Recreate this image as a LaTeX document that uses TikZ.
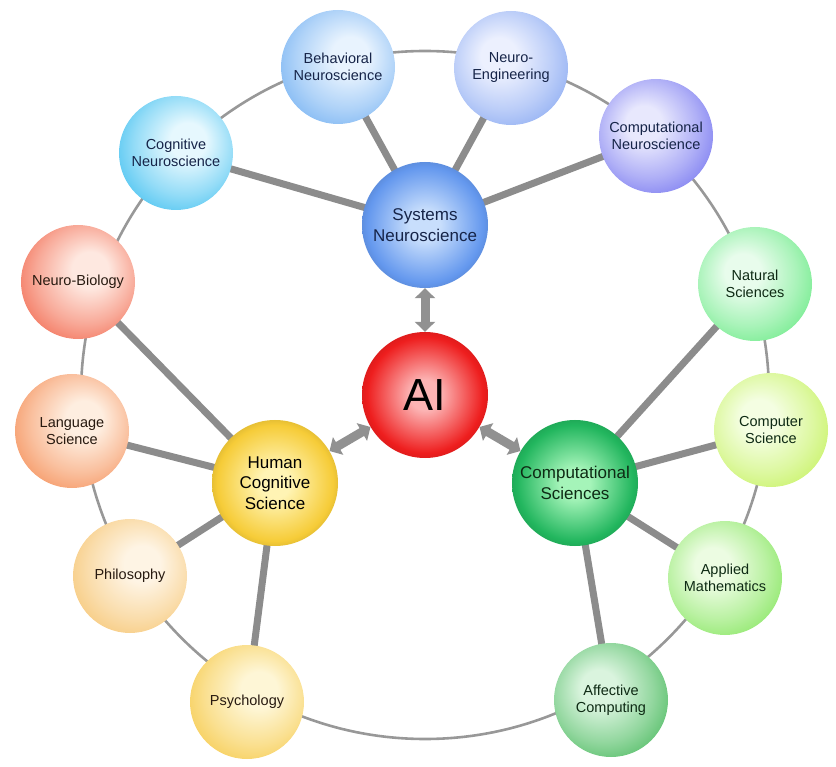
\documentclass[tikz,border=0pt]{standalone}
\usepackage{fontspec}
\setmainfont{Liberation Sans}
\usetikzlibrary{arrows.meta}
\pgfdeclarelayer{bg}
\pgfsetlayers{bg,main}
\colorlet{sphin}{white}
\colorlet{sphout}{gray}
\pgfdeclareradialshading[sphin,sphout]{sphoff}{\pgfpoint{0bp}{9bp}}{color(0bp)=(sphin); color(8bp)=(sphin); color(22bp)=(sphin!50!sphout); color(34bp)=(sphout); color(50bp)=(sphout)}
\pgfdeclareradialshading[sphin,sphout]{sphmid}{\pgfpoint{0bp}{0bp}}{color(0bp)=(sphin); color(6bp)=(sphin); color(23bp)=(sphout); color(25bp)=(sphout!94!black); color(50bp)=(sphout!94!black)}
\definecolor{linkgray}{RGB}{140,140,140}
\definecolor{ringgray}{RGB}{152,152,152}
\definecolor{arrowgray}{RGB}{145,145,145}
\definecolor{txblue}{RGB}{22,36,72}
\definecolor{txwarm}{RGB}{40,26,16}
\definecolor{txgreen}{RGB}{14,42,20}
\tikzset{
  ball/.style n args={4}{circle, minimum size=114pt, inner sep=0pt, align=center,
    /utils/exec={\colorlet{sphin}{#1}\colorlet{sphout}{#2}}, shade, shading=sphoff,
    shading angle=#3, text=#4, font=\fontsize{14.5}{17}\selectfont},
  hub/.style n args={3}{circle, minimum size=126pt, inner sep=0pt, align=center,
    /utils/exec={\colorlet{sphin}{#1}\colorlet{sphout}{#2}}, shade, shading=sphmid,
    text=#3, font=\fontsize{17}{20.5}\selectfont},
  link/.style={draw=linkgray, line width=7pt},
  ring/.style={draw=ringgray, line width=2.6pt},
  dbl/.style={draw=arrowgray, line width=9pt,
    {Triangle[width=20pt,length=10pt]}-{Triangle[width=20pt,length=10pt]}}
}
\begin{document}
\begin{tikzpicture}[x=1pt,y=-1pt]
\path[use as bounding box] (0,0) rectangle (836,767);
% hubs
\node[hub={rgb,255:red,200;green,222;blue,252}{rgb,255:red,100;green,152;blue,238}{txblue}] (sys) at (425,225) {Systems\\Neuroscience};
\node[hub={rgb,255:red,252;green,180;blue,180}{rgb,255:red,238;green,30;blue,30}{black}, font=\fontsize{45}{50}\selectfont] (ai) at (425,395) {AI};
\node[hub={rgb,255:red,255;green,244;blue,180}{rgb,255:red,246;green,204;blue,56}{black}] (hcs) at (275,483) {Human\\Cognitive\\Science};
\node[hub={rgb,255:red,165;green,244;blue,185}{rgb,255:red,34;green,182;blue,94}{txgreen}] (cs) at (575,483) {Computational\\Sciences};
% outer nodes
\node[ball={rgb,255:red,232;green,243;blue,254}{rgb,255:red,118;green,178;blue,242}{-45}{txblue}] (beh) at (338,67) {Behavioral\\Neuroscience};
\node[ball={rgb,255:red,236;green,240;blue,254}{rgb,255:red,138;green,170;blue,242}{45}{txblue}] (neng) at (511,68) {Neuro-\\Engineering};
\node[ball={rgb,255:red,232;green,232;blue,253}{rgb,255:red,118;green,118;blue,240}{45}{txblue}] (cneu) at (656,136) {Computational\\Neuroscience};
\node[ball={rgb,255:red,230;green,248;blue,254}{rgb,255:red,66;green,192;blue,240}{-45}{txblue}] (cogn) at (176,153) {Cognitive\\Neuroscience};
\node[ball={rgb,255:red,232;green,252;blue,236}{rgb,255:red,106;green,234;blue,134}{45}{txgreen}] (nat) at (755,284) {Natural\\Sciences};
\node[ball={rgb,255:red,254;green,232;blue,224}{rgb,255:red,242;green,106;blue,80}{-45}{txwarm}] (nbio) at (78,282) {Neuro-Biology};
\node[ball={rgb,255:red,254;green,238;blue,224}{rgb,255:red,245;green,144;blue,90}{-45}{txwarm}] (lang) at (72,431) {Language\\Science};
\node[ball={rgb,255:red,244;green,254;blue,226}{rgb,255:red,198;green,242;blue,96}{45}{txgreen}] (comp) at (771,430) {Computer\\Science};
\node[ball={rgb,255:red,254;green,244;blue,228}{rgb,255:red,246;green,198;blue,116}{-45}{txwarm}] (phil) at (130,576) {Philosophy};
\node[ball={rgb,255:red,236;green,252;blue,226}{rgb,255:red,134;green,230;blue,96}{45}{txgreen}] (appl) at (725,578) {Applied\\Mathematics};
\node[ball={rgb,255:red,254;green,246;blue,214}{rgb,255:red,246;green,202;blue,76}{-45}{txwarm}] (psy) at (247,702) {Psychology};
\node[ball={rgb,255:red,218;green,244;blue,222}{rgb,255:red,76;green,186;blue,96}{45}{txgreen}] (aff) at (611,700) {Affective\\Computing};
% background: ring and links
\begin{pgfonlayer}{bg}
\draw[ring] (ai.center) circle[radius=344pt];
\foreach \a/\b in {sys/cogn, sys/beh, sys/neng, sys/cneu,
                   hcs/nbio, hcs/lang, hcs/phil, hcs/psy,
                   cs/nat, cs/comp, cs/appl, cs/aff}
  \draw[link] (\a.center) -- (\b.center);
\end{pgfonlayer}
% double arrows
\draw[dbl] (ai) -- (sys);
\draw[dbl] (ai) -- (hcs);
\draw[dbl] (ai) -- (cs);
\end{tikzpicture}
\end{document}
